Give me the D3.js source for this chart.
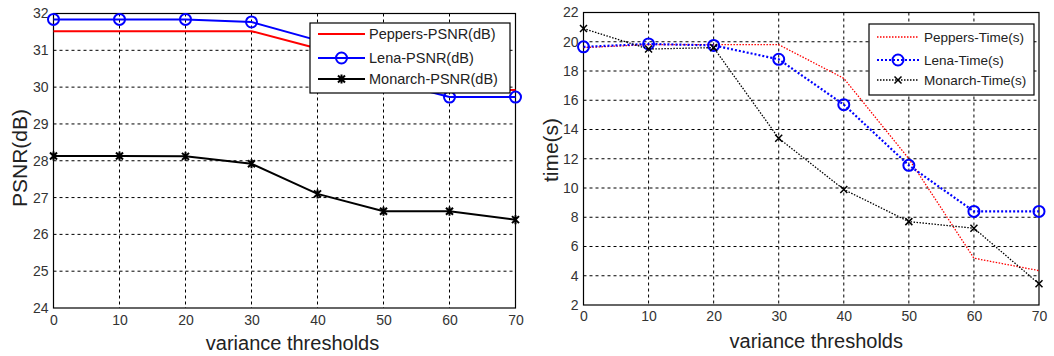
<!DOCTYPE html>
<html>
<head>
<meta charset="utf-8">
<script src="https://cdn.jsdelivr.net/npm/d3@7"></script>
<style>
  body { margin: 0; background: #fff; }
  svg { display: block; font-family: "Liberation Sans", Arial, sans-serif; }
</style>
</head>
<body>
<svg id="chart" width="1054" height="356"></svg>
<script>
"use strict";

// variance thresholds (shared x axis)
const thresholds = [0, 10, 20, 30, 40, 50, 60, 70];

// left panel: PSNR(dB)
const peppersPSNR = [31.52, 31.52, 31.52, 31.52, 31.05, 30.4, 29.92, 29.92];
const lenaPSNR = [31.84, 31.84, 31.84, 31.77, 31.27, 30.2, 29.73, 29.73];
const monarchPSNR = [28.13, 28.13, 28.12, 27.92, 27.1, 26.63, 26.63, 26.4];
const psnrTicks = [24, 25, 26, 27, 28, 29, 30, 31, 32];

// right panel: time(s)
const peppersTime = [19.6, 19.8, 19.8, 19.8, 17.5, 12.0, 5.2, 4.35];
const lenaTime = [19.65, 19.85, 19.75, 18.8, 15.7, 11.55, 8.4, 8.4];
const monarchTime = [20.9, 19.5, 19.6, 13.4, 9.9, 7.7, 7.25, 3.45];
const timeTicks = [2, 4, 6, 8, 10, 12, 14, 16, 18, 20, 22];

const svg = d3.select("#chart");

// draw a marker at (0,0) inside group g
function drawMarker(g, type, color, size) {
  if (type === "circle") {
    g.append("circle").attr("r", size).attr("fill", "none")
      .attr("stroke", color).attr("stroke-width", 2);
  } else if (type === "star") {
    const s = size;
    const p = `M${-s},${-s}L${s},${s}M${-s},${s}L${s},${-s}M0,${-s - 1}L0,${s + 1}`;
    g.append("path").attr("d", p).attr("stroke", color).attr("stroke-width", 2).attr("fill", "none");
  } else if (type === "x") {
    const s = size;
    g.append("path").attr("d", `M${-s},${-s}L${s},${s}M${-s},${s}L${s},${-s}`)
      .attr("stroke", color).attr("stroke-width", 1.5).attr("fill", "none");
  }
}

function drawPanel(cfg) {
  const x = d3.scaleLinear().domain([0, 70]).range([cfg.left, cfg.right]);
  const y = d3.scaleLinear().domain(cfg.yDomain).range([cfg.bottom, cfg.top]);
  const g = svg.append("g");

  // grid
  g.append("g").selectAll("line").data(thresholds.slice(1, -1)).join("line")
    .attr("x1", d => x(d)).attr("x2", d => x(d))
    .attr("y1", cfg.top).attr("y2", cfg.bottom)
    .attr("stroke", "#000").attr("stroke-width", 1).attr("stroke-dasharray", "3,3");
  g.append("g").selectAll("line").data(cfg.yTicks.slice(1, -1)).join("line")
    .attr("x1", cfg.left).attr("x2", cfg.right)
    .attr("y1", d => y(d)).attr("y2", d => y(d))
    .attr("stroke", "#000").attr("stroke-width", 1).attr("stroke-dasharray", "3,3");

  // box
  g.append("rect").attr("x", cfg.left).attr("y", cfg.top)
    .attr("width", cfg.right - cfg.left).attr("height", cfg.bottom - cfg.top)
    .attr("fill", "none").attr("stroke", "#000").attr("stroke-width", 1.2);

  // axes (ticks drawn inward, labels outside)
  const xAxis = d3.axisBottom(x).tickValues(thresholds).tickSize(0).tickPadding(cfg.xPad);
  const xa = g.append("g").attr("transform", `translate(0,${cfg.bottom})`).call(xAxis);
  const yAxis = d3.axisLeft(y).tickValues(cfg.yTicks).tickSize(0).tickPadding(5);
  const ya = g.append("g").attr("transform", `translate(${cfg.left},0)`).call(yAxis);
  [xa, ya].forEach(a => {
    a.select(".domain").remove();
    a.selectAll("text").attr("font-size", 14).attr("fill", "#333")
      .attr("font-family", "Liberation Sans, Arial, sans-serif");
  });

  // axis titles
  g.append("text").attr("x", (cfg.left + cfg.right) / 2 + cfg.xTitleShift).attr("y", cfg.xTitleY)
    .attr("text-anchor", "middle").attr("font-size", 20).attr("fill", "#222")
    .text("variance thresholds");
  g.append("text")
    .attr("transform", `translate(${cfg.yTitleX},${cfg.yTitleY}) rotate(-90)`)
    .attr("text-anchor", "middle").attr("font-size", 21).attr("fill", "#222")
    .text(cfg.yTitle);

  // series
  const line = d3.line().x((d, i) => x(thresholds[i])).y(d => y(d));
  cfg.series.forEach(s => {
    g.append("path").datum(s.values).attr("d", line)
      .attr("fill", "none").attr("stroke", s.color).attr("stroke-width", s.width)
      .attr("stroke-dasharray", s.dash || null);
    if (s.marker) {
      s.values.forEach((v, i) => {
        const m = g.append("g").attr("transform", `translate(${x(thresholds[i])},${y(v)})`);
        drawMarker(m, s.marker, s.color, s.size);
      });
    }
  });

  // legend
  const L = cfg.legend;
  const lg = g.append("g");
  lg.append("rect").attr("x", L.x).attr("y", L.y).attr("width", L.w).attr("height", L.h)
    .attr("fill", "#fff").attr("stroke", "#000").attr("stroke-width", 1.2);
  cfg.series.forEach((s, i) => {
    const yy = L.rows[i];
    lg.append("line").attr("x1", L.lx1).attr("x2", L.lx2).attr("y1", yy).attr("y2", yy)
      .attr("stroke", s.color).attr("stroke-width", s.width)
      .attr("stroke-dasharray", s.dash || null);
    if (s.marker) {
      const m = lg.append("g").attr("transform", `translate(${(L.lx1 + L.lx2) / 2},${yy})`);
      drawMarker(m, s.marker, s.color, s.size);
    }
    lg.append("text").attr("x", L.tx).attr("y", yy).attr("dy", "0.35em")
      .attr("font-size", L.fs).attr("fill", "#222").text(s.name);
  });
}

drawPanel({
  left: 53.5, right: 515.5, top: 13.5, bottom: 308,
  yDomain: [24, 32], yTicks: psnrTicks, xPad: 7,
  xTitleY: 350, xTitleShift: 8, yTitle: "PSNR(dB)", yTitleX: 27, yTitleY: 158,
  series: [
    { name: "Peppers-PSNR(dB)", values: peppersPSNR, color: "#ff0000", width: 2 },
    { name: "Lena-PSNR(dB)", values: lenaPSNR, color: "#0000ff", width: 2, marker: "circle", size: 5.5 },
    { name: "Monarch-PSNR(dB)", values: monarchPSNR, color: "#000", width: 2, marker: "star", size: 3.5 }
  ],
  legend: { x: 310, y: 23, w: 200, h: 70, rows: [34, 58, 79], lx1: 318, lx2: 365, tx: 369, fs: 14.5 }
});

drawPanel({
  left: 583.5, right: 1039, top: 12.5, bottom: 305,
  yDomain: [2, 22], yTicks: timeTicks, xPad: 6,
  xTitleY: 348, xTitleShift: 5, yTitle: "time(s)", yTitleX: 558, yTitleY: 150,
  series: [
    { name: "Peppers-Time(s)", values: peppersTime, color: "#ff0000", width: 1.3, dash: "1.5,1.5" },
    { name: "Lena-Time(s)", values: lenaTime, color: "#0000ff", width: 2.2, dash: "2,2", marker: "circle", size: 5.5 },
    { name: "Monarch-Time(s)", values: monarchTime, color: "#000", width: 1.3, dash: "1.5,1.5", marker: "x", size: 3.5 }
  ],
  legend: { x: 869, y: 24, w: 165, h: 71, rows: [37, 60, 80], lx1: 877, lx2: 919, tx: 924, fs: 13.5 }
});
</script>
</body>
</html>
